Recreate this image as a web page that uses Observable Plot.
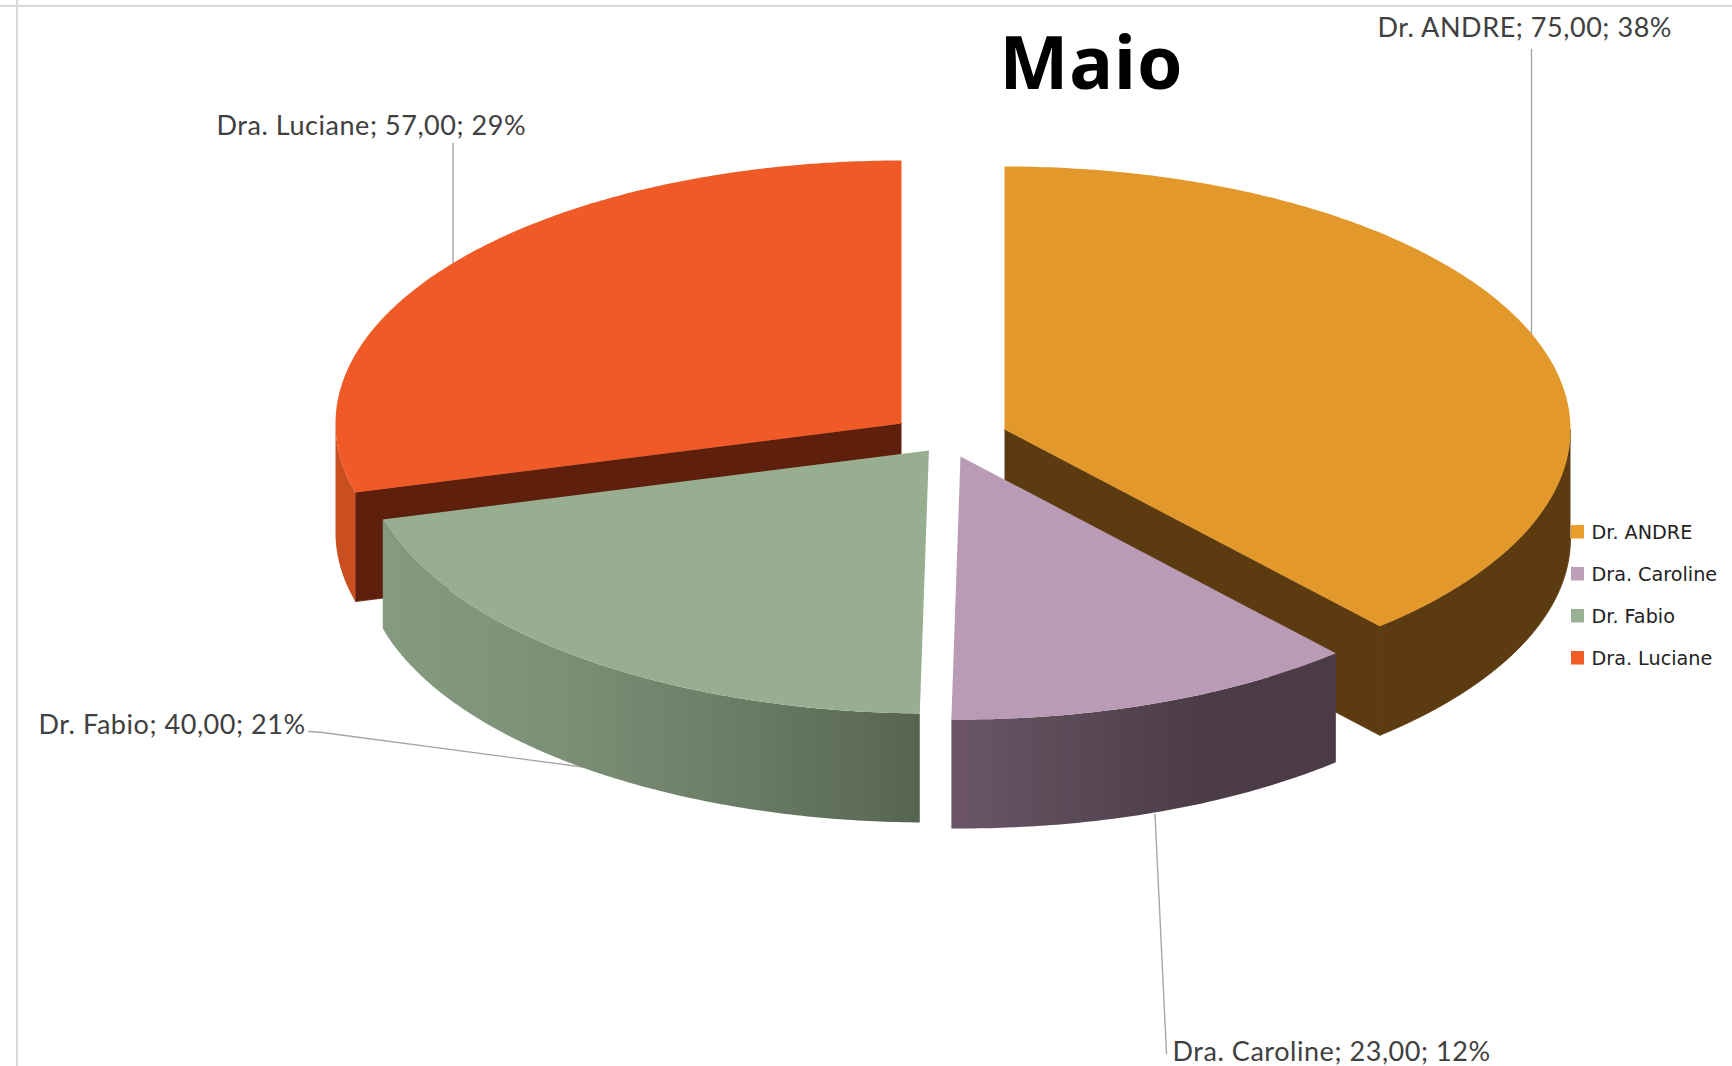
<!DOCTYPE html>
<html>
<head>
<meta charset="utf-8">
<script src="https://cdn.jsdelivr.net/npm/d3@7"></script>
<script src="https://cdn.jsdelivr.net/npm/@observablehq/plot@0.6"></script>
<style>
html,body{margin:0;padding:0;background:#fff;overflow:hidden}
svg{display:block}
g[font-family="Lato"]{letter-spacing:.55px}
g[font-family="Noto Sans"]{letter-spacing:1px}
</style>
</head>
<body>
<div id="chart"></div>
<script>
const names = ["Dr. ANDRE", "Dra. Caroline", "Dr. Fabio", "Dra. Luciane"];
const values = [75, 23, 40, 57];
const chartTitle = "Maio";

const topColors = ["#E3982C", "#BA9BB5", "#98AE91", "#EF5A26"];
const legendColors = ["#E99E2C", "#BD9FB8", "#9AB093", "#F25C27"];
const outerColors = ["#5C3B10", "url(#sideCaroline)", "url(#sideFabio)", "#C94E20"];
const cutColors = ["#5C3B10", null, null, "#5F1F0D"];

// Where each exploded slice's apex sits, on the SVG's own 1732x1066 scale.
const apexX = [1004, 960, 928.4, 901];
const apexY = [429, 456, 450, 423];
const radiusX = 566, radiusY = 263, depth = 109;

// Label placement
const labelX = [1377, 1172, 38, 216];
const labelBaseline = [36, 1060, 733, 134];
const leaderX1 = [1531, 1154.5, 308, 452.5];
const leaderY1 = [335, 813.6, 731, 262];
const leaderX2 = [1531, 1166, 586, 452.5];
const leaderY2 = [49, 1053, 767, 143];
const leaderBendX = [null, null, 322, null];
const leaderBendY = [null, null, 732, null];

const legendX = 1571, legendTextX = 1591, legendTops = [525, 567, 609, 651];

const total = d3.sum(values);
const pct = values.map(v => Math.round(v / total * 100));
const labels = names.map((n, i) => `${n}; ${values[i].toFixed(2).replace(".", ",")}; ${pct[i]}%`);

const arcs = d3.pie().sort(null).value(d => d)(values);

const pt = (i, a, drop = 0) => ({
  x: apexX[i] + radiusX * Math.sin(a),
  y: apexY[i] - radiusY * Math.cos(a) + drop
});
const arcPoints = (i, a0, a1, drop = 0) => {
  const n = Math.max(2, Math.ceil(Math.abs(a1 - a0) / 0.01));
  return d3.range(n + 1).map(k => pt(i, a0 + (a1 - a0) * k / n, drop));
};

const shape = (pts, fill, stroke = "none") => Plot.line(pts, {x: "x", y: "y", fill, stroke, strokeWidth: 0.8, curve: "linear"});

const gradient = (id, stops) => {
  const g = d3.create("svg:linearGradient").attr("id", id).attr("x1", 0).attr("x2", 1).attr("y1", 0).attr("y2", 0);
  stops.forEach(([o, c]) => g.append("stop").attr("offset", o).attr("stop-color", c));
  return g;
};
const defs = () => {
  const d = d3.create("svg:defs");
  d.append(() => gradient("sideFabio", [[0, "#859B7F"], [0.35, "#7B8F75"], [0.7, "#687A63"], [1, "#566552"]]).node());
  d.append(() => gradient("sideCaroline", [[0, "#6B5566"], [0.3, "#5B4A57"], [0.65, "#4B3C48"], [1, "#4A3B47"]]).node());
  return d.node();
};

const sliceMarks = i => {
  const {startAngle: a0, endAngle: a1} = arcs[i];
  const marks = [];
  const lo = Math.max(a0, Math.PI / 2), hi = Math.min(a1, 3 * Math.PI / 2);
  if (i === 0 || i === 3) {
    const angle = i === 0 ? a1 : a0;
    const p = pt(i, angle);
    const ax = {x: apexX[i], y: apexY[i]};
    marks.push(shape([ax, p, {x: p.x, y: p.y + depth}, {x: ax.x, y: ax.y + depth}], cutColors[i], cutColors[i]));
  }
  if (hi > lo) {
    const solid = i === 0 ? outerColors[i] : "none";
    marks.push(shape([...arcPoints(i, lo, hi), ...arcPoints(i, hi, lo, depth)], outerColors[i], solid));
  }
  marks.push(shape([{x: apexX[i], y: apexY[i]}, ...arcPoints(i, a0, a1)], topColors[i]));
  return marks;
};

const leaders = names.map((_, i) => {
  const p = [{x: leaderX1[i], y: leaderY1[i]}];
  if (leaderBendX[i] != null) p.push({x: leaderBendX[i], y: leaderBendY[i]});
  p.push({x: leaderX2[i], y: leaderY2[i]});
  return p;
});

const legendRows = names.map((n, i) => ({n, i, x1: legendX, x2: legendX + 13, y1: legendTops[i], y2: legendTops[i] + 13.5, tx: legendTextX, ty: legendTops[i] + 13}));
const labelRows = labels.map((t, i) => ({t, x: labelX[i], y: labelBaseline[i]}));

const chart = Plot.plot({
  width: 1732, height: 1066,
  margin: 0,
  x: {domain: [0, 1732], range: [0, 1732], axis: null},
  y: {domain: [0, 1066], range: [0, 1066], axis: null},
  marks: [
    defs,
    Plot.ruleX([16.5], {stroke: "#D9D9D9", strokeWidth: 2}),
    Plot.ruleY([5.5], {stroke: "#D9D9D9", strokeWidth: 2}),
    ...leaders.map(p => Plot.line(p, {x: "x", y: "y", stroke: "#A6A6A6", strokeWidth: 1.4})),
    ...[0, 3, 2, 1].flatMap(sliceMarks),
    Plot.text([chartTitle], {x: 999, y: 88, text: d => d, textAnchor: "start", lineAnchor: "bottom", fontFamily: "Noto Sans", fontWeight: 700, fontSize: 73, fill: "#000"}),
    Plot.text(labelRows, {x: "x", y: "y", text: "t", textAnchor: "start", lineAnchor: "bottom", fontFamily: "Lato", fontSize: 27, fill: "#404040"}),
    Plot.rect(legendRows, {x1: "x1", x2: "x2", y1: "y1", y2: "y2", fill: (d) => legendColors[d.i]}),
    Plot.text(legendRows, {x: "tx", y: "ty", text: "n", textAnchor: "start", lineAnchor: "bottom", fontFamily: "DejaVu Sans", fontSize: 19.2, fill: "#222222"})
  ]
});
document.getElementById("chart").append(chart);
</script>
</body>
</html>
